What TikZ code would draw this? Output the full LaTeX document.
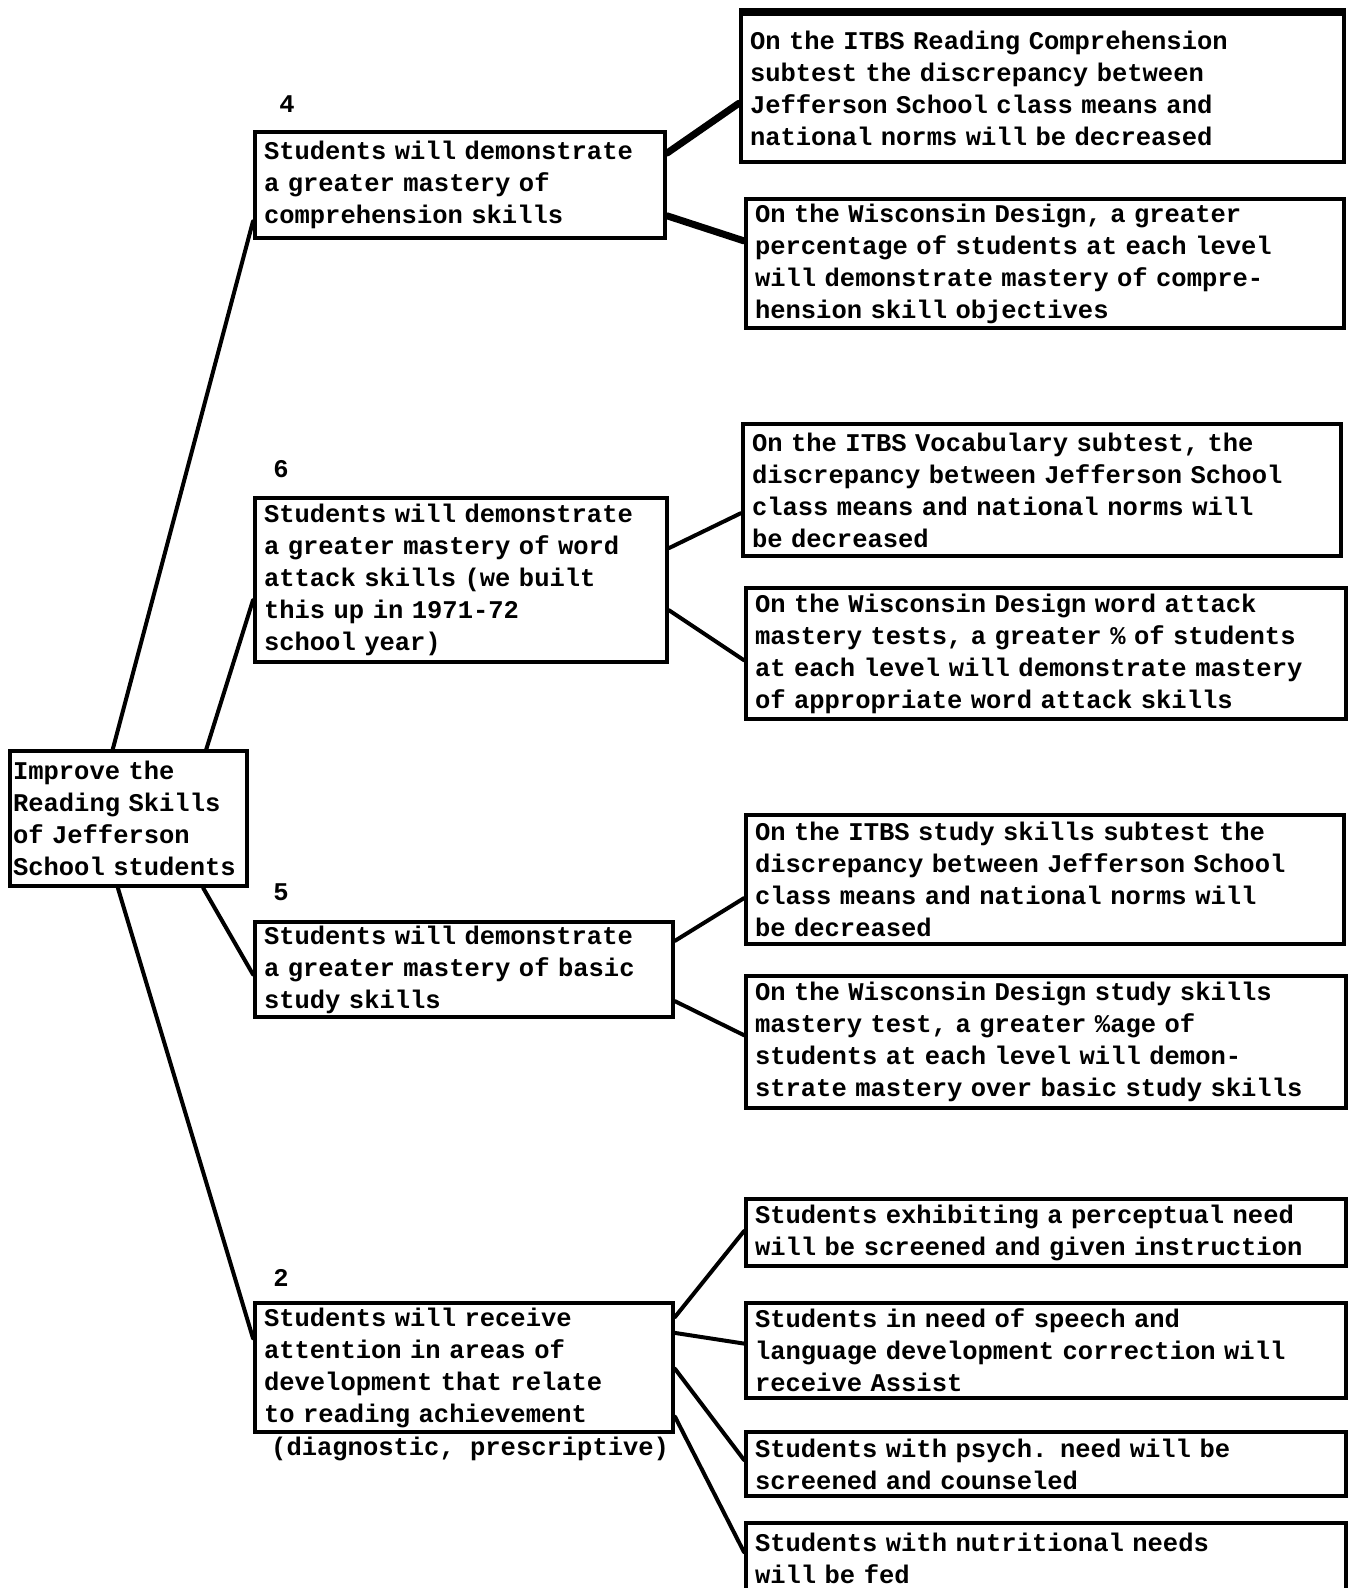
\documentclass[tikz,border=0pt]{standalone}
\usepackage{fontspec}
\newfontfamily\tw{Liberation Mono}
\usetikzlibrary{calc}
\tikzset{
  tyfont/.style={font=\tw\bfseries\fontsize{25.5}{32}\selectfont},
  box/.style={tyfont, draw, line width=4pt, rectangle, anchor=north west,
    inner xsep=9pt, inner ysep=0pt, align=left},
  conn/.style={line width=4pt, line cap=round},
  thickconn/.style={line width=7pt, line cap=round},
  lbl/.style={tyfont, inner sep=0pt},
}
\begin{document}
\begin{tikzpicture}[x=1pt,y=-1pt]
\useasboundingbox[fill=white] (0,0) rectangle (1349,1588);

% root
\node[box, inner xsep=3pt, minimum width=237pt, minimum height=135pt, text width=231pt] (root) at (8,749)
  {Improve the\\Reading Skills\\of Jefferson\\School students};

% middle level
\node[lbl] (n4) at (287,104) {4};
\node[box, minimum width=410pt, minimum height=106pt, text width=392pt] (box4) at (253,130)
  {Students will demonstrate\\a greater mastery of\\comprehension skills};

\node[lbl] (n6) at (281,469) {6};
\node[box, minimum width=412pt, minimum height=164pt, text width=394pt] (box6) at (253,496)
  {Students will demonstrate\\a greater mastery of word\\attack skills (we built\\this up in 1971-72\\school year)};

\node[lbl] (n5) at (281,892) {5};
\node[box, minimum width=418pt, minimum height=95pt, text width=400pt] (box5) at (253,920)
  {Students will demonstrate\\a greater mastery of basic\\study skills};

\node[lbl] (n2) at (281,1278) {2};
\node[box, minimum width=418pt, minimum height=129pt, text width=400pt] (box2) at (253,1301)
  {Students will receive\\attention in areas of\\development that relate\\to reading achievement};
\node[lbl, anchor=west] (diag) at (271,1449) {(diagnostic, prescriptive)};

% right level
\node[box, minimum width=603pt, minimum height=148pt, text width=585pt] (r1) at (739,12)
  {On the ITBS Reading Comprehension\\subtest the discrepancy between\\Jefferson School class means and\\national norms will be decreased};
\draw[line width=8pt] (r1.north west) -- (r1.north east);
\node[box, minimum width=598pt, minimum height=129pt, text width=580pt] (r2) at (744,197)
  {On the Wisconsin Design, a greater\\percentage of students at each level\\will demonstrate mastery of compre-\\hension skill objectives};
\node[box, minimum width=598pt, minimum height=132pt, text width=580pt] (r3) at (741,422)
  {On the ITBS Vocabulary subtest, the\\discrepancy between Jefferson School\\class means and national norms will\\be decreased};
\node[box, minimum width=600pt, minimum height=131pt, text width=582pt] (r4) at (744,586)
  {On the Wisconsin Design word attack\\mastery tests, a greater \% of students\\at each level will demonstrate mastery\\of appropriate word attack skills};
\node[box, minimum width=598pt, minimum height=129pt, text width=580pt] (r5) at (744,813)
  {On the ITBS study skills subtest the\\discrepancy between Jefferson School\\class means and national norms will\\be decreased};
\node[box, minimum width=600pt, minimum height=132pt, text width=582pt] (r6) at (744,974)
  {On the Wisconsin Design study skills\\mastery test, a greater \%age of\\students at each level will demon-\\strate mastery over basic study skills};
\node[box, minimum width=600pt, minimum height=67pt, text width=582pt] (r7) at (744,1197)
  {Students exhibiting a perceptual need\\will be screened and given instruction};
\node[box, minimum width=600pt, minimum height=95pt, text width=582pt] (r8) at (744,1301)
  {Students in need of speech and\\language development correction will\\receive Assist};
\node[box, minimum width=600pt, minimum height=64pt, text width=582pt] (r9) at (744,1430)
  {Students with psych. need will be\\screened and counseled};
\node[box, minimum width=600pt, minimum height=70pt, text width=582pt] (r10) at (744,1521)
  {Students with nutritional needs\\will be fed};

% connectors root -> middle
\draw[conn] ($(root.north west)!0.435!(root.north east)$) -- ($(box4.north west)!0.83!(box4.south west)$);
\draw[conn] ($(root.north west)!0.823!(root.north east)$) -- ($(box6.north west)!0.62!(box6.south west)$);
\draw[conn] ($(root.south west)!0.81!(root.south east)$) -- ($(box5.north west)!0.55!(box5.south west)$);
\draw[conn] ($(root.south west)!0.456!(root.south east)$) -- ($(box2.north west)!0.28!(box2.south west)$);

% connectors middle -> right
\draw[thickconn] ($(box4.north east)!0.21!(box4.south east)$) -- ($(r1.north west)!0.6!(r1.south west)$);
\draw[thickconn] ($(box4.north east)!0.78!(box4.south east)$) -- ($(r2.north west)!0.33!(r2.south west)$);
\draw[conn] ($(box6.north east)!0.31!(box6.south east)$) -- ($(r3.north west)!0.67!(r3.south west)$);
\draw[conn] ($(box6.north east)!0.68!(box6.south east)$) -- ($(r4.north west)!0.55!(r4.south west)$);
\draw[conn] ($(box5.north east)!0.21!(box5.south east)$) -- ($(r5.north west)!0.64!(r5.south west)$);
\draw[conn] ($(box5.north east)!0.82!(box5.south east)$) -- ($(r6.north west)!0.45!(r6.south west)$);
\draw[conn] ($(box2.north east)!0.12!(box2.south east)$) -- ($(r7.north west)!0.48!(r7.south west)$);
\draw[conn] ($(box2.north east)!0.24!(box2.south east)$) -- ($(r8.north west)!0.43!(r8.south west)$);
\draw[conn] ($(box2.north east)!0.51!(box2.south east)$) -- ($(r9.north west)!0.44!(r9.south west)$);
\draw[conn] ($(box2.north east)!0.87!(box2.south east)$) -- ($(r10.north west)!0.42!(r10.south west)$);
\end{tikzpicture}
\end{document}
